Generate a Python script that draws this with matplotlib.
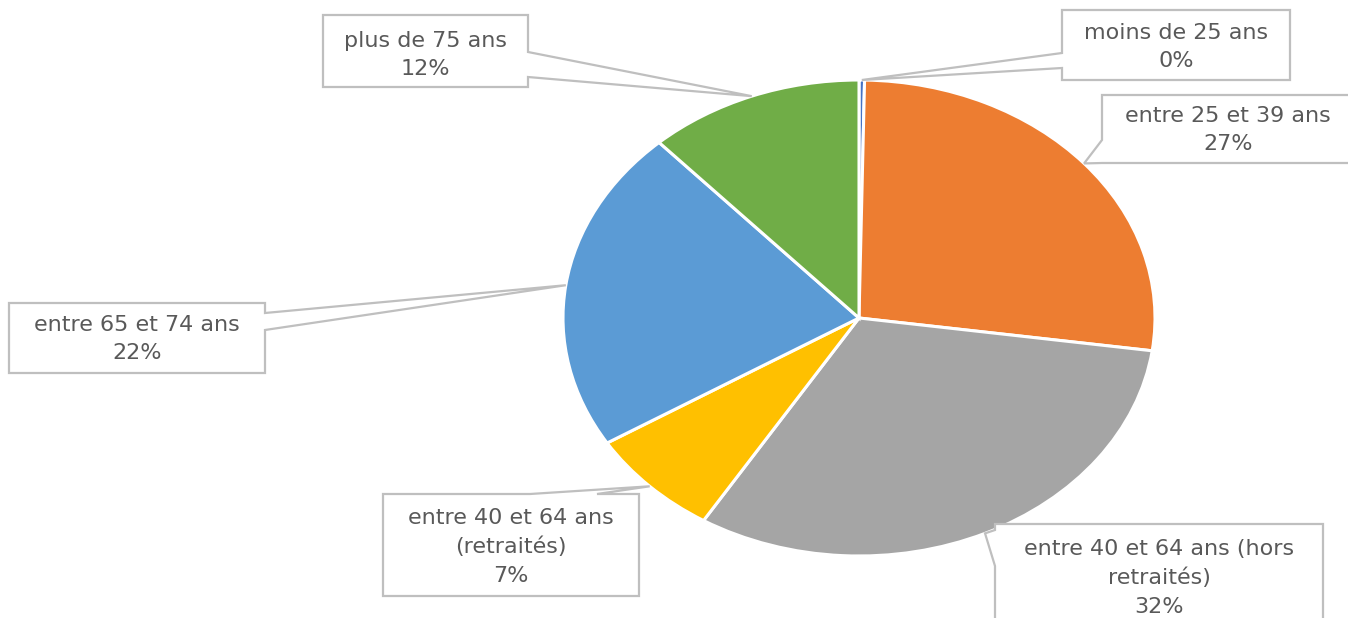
import numpy as np
import matplotlib.pyplot as plt
from matplotlib.patches import Polygon

# DATA
categories = ["moins de 25 ans", "entre 25 et 39 ans", "entre 40 et 64 ans (hors\nretraités)",
              "entre 40 et 64 ans\n(retraités)", "entre 65 et 74 ans", "plus de 75 ans"]
shares     = [0.3, 26.9, 31.6, 7.4, 22.0, 11.8]
colors     = ["#4472C4", "#ED7D31", "#A5A5A5", "#FFC000", "#5B9BD5", "#70AD47"]

# LAYOUT (pixels, origin top-left): box, side of the tail, tail base, text centre
W, H = 1348, 618
callouts = [
    ((1062, 10, 1290, 80),   "left",  (53, 68),   (1176, 47)),
    ((1102, 95, 1352, 163),  "left",  (140, 163), (1228, 130)),
    ((995, 524, 1323, 640),  "left",  (530, 566), (1159, 578)),
    ((383, 494, 639, 596),   "top",   (530, 597), (511, 547)),
    ((9, 303, 265, 373),     "right", (313, 330), (137, 339)),
    ((323, 15, 528, 87),     "right", (52, 77),   (425, 55)),
]

TEXT_COL = "#595959"
EDGE_COL = "#BFBFBF"
plt.rcParams['font.family'] = ['DejaVu Sans']


def callout_poly(box, side, base, tip):
    x0, y0, x1, y1 = box
    a, b = base
    pts = [(x0, y0)]
    if side == "top":
        pts += [(a, y0), tip, (b, y0)]
    pts += [(x1, y0)]
    if side == "right":
        pts += [(x1, a), tip, (x1, b)]
    pts += [(x1, y1)]
    if side == "bottom":
        pts += [(b, y1), tip, (a, y1)]
    pts += [(x0, y1)]
    if side == "left":
        pts += [(x0, b), tip, (x0, a)]
    return pts


fig = plt.figure(figsize=(W / 100, H / 100), dpi=100)

# pie is slightly stretched horizontally in the original
cx, cy, rx, ry = 859, 318, 296, 238
ax = fig.add_axes([(cx - rx) / W, (H - cy - ry) / H, 2 * rx / W, 2 * ry / H])
wedges, _ = ax.pie(shares, colors=colors, startangle=90, counterclock=False, radius=1,
                   wedgeprops=dict(edgecolor="white", linewidth=2.2))
ax.set_aspect("auto")
ax.set_xlim(-1, 1)
ax.set_ylim(-1, 1)
ax.axis("off")

# overlay in pixel coordinates for the callouts
ov = fig.add_axes([0, 0, 1, 1], zorder=3)
ov.set_xlim(0, W)
ov.set_ylim(H, 0)
ov.axis("off")
ov.patch.set_alpha(0)

for w, label, val, (box, side, base, tc) in zip(wedges, categories, shares, callouts):
    mid = np.deg2rad((w.theta1 + w.theta2) / 2)
    disp = ax.transData.transform((np.cos(mid), np.sin(mid)))
    tip = tuple(ov.transData.inverted().transform(disp))
    poly = Polygon(callout_poly(box, side, base, tip), closed=True, facecolor="white",
                   edgecolor=EDGE_COL, linewidth=1.6, joinstyle="miter")
    ov.add_patch(poly)
    ov.text(tc[0], tc[1], f"{label}\n{val:.0f}%", ha="center", va="center",
            fontsize=16, color=TEXT_COL, linespacing=1.52)

fig.savefig("out.png", dpi=100)
